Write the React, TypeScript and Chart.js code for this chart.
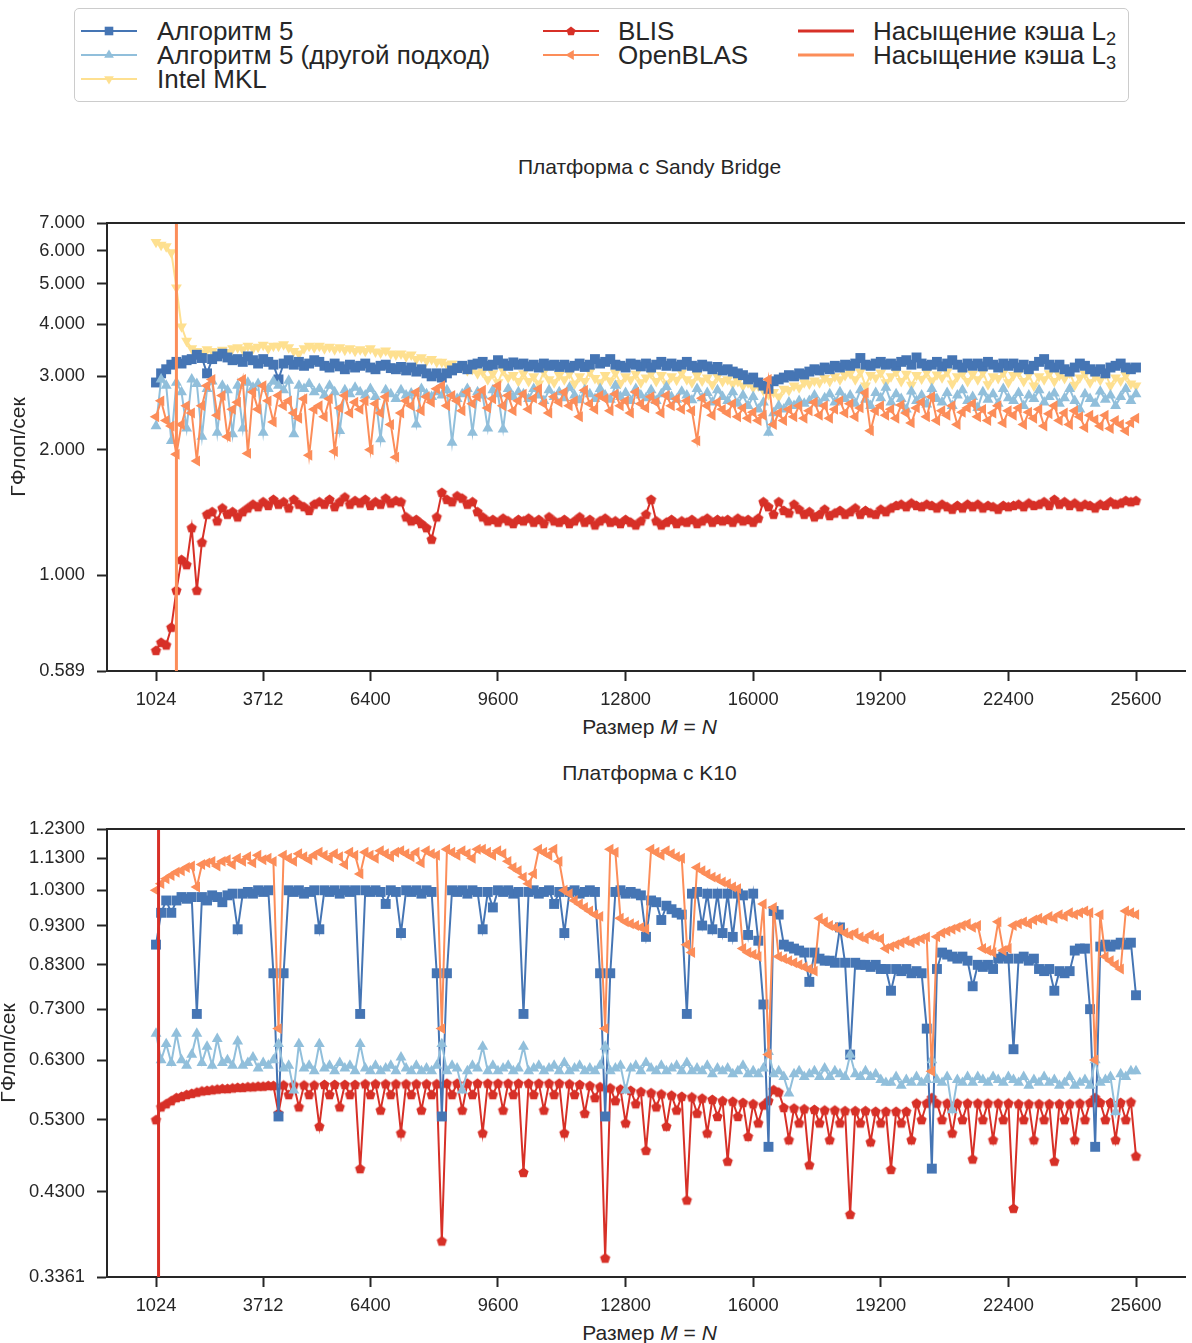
import React, { useEffect, useRef } from "react";
import { Chart, registerables } from "chart.js";

Chart.register(...registerables);

// ---------- data ----------
const SIZES = [
  1024, 1152, 1280, 1408, 1536, 1664, 1792, 1920,
  2048, 2176, 2304, 2432, 2560, 2688, 2816, 2944,
  3072, 3200, 3328, 3456, 3584, 3712, 3840, 3968,
  4096, 4224, 4352, 4480, 4608, 4736, 4864, 4992,
  5120, 5248, 5376, 5504, 5632, 5760, 5888, 6016,
  6144, 6272, 6400, 6528, 6656, 6784, 6912, 7040,
  7168, 7296, 7424, 7552, 7680, 7808, 7936, 8064,
  8192, 8320, 8448, 8576, 8704, 8832, 8960, 9088,
  9216, 9344, 9472, 9600, 9728, 9856, 9984, 10112,
  10240, 10368, 10496, 10624, 10752, 10880, 11008, 11136,
  11264, 11392, 11520, 11648, 11776, 11904, 12032, 12160,
  12288, 12416, 12544, 12672, 12800, 12928, 13056, 13184,
  13312, 13440, 13568, 13696, 13824, 13952, 14080, 14208,
  14336, 14464, 14592, 14720, 14848, 14976, 15104, 15232,
  15360, 15488, 15616, 15744, 15872, 16000, 16128, 16256,
  16384, 16512, 16640, 16768, 16896, 17024, 17152, 17280,
  17408, 17536, 17664, 17792, 17920, 18048, 18176, 18304,
  18432, 18560, 18688, 18816, 18944, 19072, 19200, 19328,
  19456, 19584, 19712, 19840, 19968, 20096, 20224, 20352,
  20480, 20608, 20736, 20864, 20992, 21120, 21248, 21376,
  21504, 21632, 21760, 21888, 22016, 22144, 22272, 22400,
  22528, 22656, 22784, 22912, 23040, 23168, 23296, 23424,
  23552, 23680, 23808, 23936, 24064, 24192, 24320, 24448,
  24576, 24704, 24832, 24960, 25088, 25216, 25344, 25472,
  25600,
];

// Sandy Bridge platform (GFlop/s)
const SB_ALG5 = [
  2.90, 3.05, 3.12, 3.20, 3.25, 3.22, 3.28, 3.30,
  3.38, 3.32, 3.05, 3.30, 3.35, 3.40, 3.33, 3.28,
  3.30, 3.25, 3.35, 3.28, 3.22, 3.30, 3.25, 3.20,
  2.95, 3.22, 3.28, 3.20, 3.25, 3.18, 3.22, 3.28,
  3.25, 3.18, 3.15, 3.22, 3.17, 3.12, 3.20, 3.15,
  3.18, 3.22, 3.15, 3.12, 3.18, 3.20, 3.14, 3.12,
  3.16, 3.10, 3.15, 3.08, 3.12, 3.05, 3.00, 3.05,
  2.98, 3.05, 3.10, 3.14, 3.18, 3.12, 3.20, 3.22,
  3.25, 3.18, 3.20, 3.28, 3.22, 3.18, 3.24, 3.20,
  3.22, 3.17, 3.20, 3.15, 3.22, 3.18, 3.20, 3.16,
  3.20, 3.15, 3.18, 3.22, 3.16, 3.20, 3.30, 3.22,
  3.25, 3.30, 3.20, 3.18, 3.15, 3.22, 3.20, 3.17,
  3.22, 3.15, 3.20, 3.25, 3.18, 3.22, 3.17, 3.20,
  3.25, 3.18, 3.15, 3.20, 3.17, 3.12, 3.16, 3.10,
  3.12, 3.08, 3.05, 3.02, 2.95, 2.98, 2.90, 2.85,
  2.80, 2.92, 2.95, 2.98, 3.02, 3.00, 3.05, 3.03,
  3.08, 3.12, 3.10, 3.15, 3.12, 3.18, 3.15, 3.20,
  3.18, 3.22, 3.32, 3.20, 3.18, 3.22, 3.25, 3.20,
  3.22, 3.18, 3.25, 3.28, 3.20, 3.33, 3.22, 3.18,
  3.20, 3.25, 3.17, 3.22, 3.28, 3.20, 3.15, 3.22,
  3.18, 3.22, 3.17, 3.25, 3.20, 3.15, 3.22, 3.18,
  3.22, 3.15, 3.20, 3.12, 3.18, 3.25, 3.30, 3.20,
  3.15, 3.20, 3.12, 3.08, 3.15, 3.22, 3.18, 3.12,
  3.08, 3.12, 3.05, 3.15, 3.18, 3.22, 3.15, 3.12,
  3.15,
];

const SB_ALG5_ALT = [
  2.28, 2.95, 2.85, 2.10, 2.90, 2.75, 2.25, 2.95,
  2.88, 2.15, 2.80, 2.92, 2.20, 2.85, 2.78, 2.18,
  2.85, 2.25, 2.90, 2.82, 2.88, 2.20, 2.80, 2.92,
  2.85, 2.78, 2.93, 2.18, 2.85, 2.80, 2.88, 2.75,
  2.80, 2.70, 2.85, 2.75, 2.22, 2.78, 2.72, 2.82,
  2.75, 2.70, 2.80, 2.68, 2.12, 2.78, 2.72, 2.65,
  2.78, 2.70, 2.73, 2.30, 2.80, 2.72, 2.68, 2.75,
  2.70, 2.78, 2.08, 2.65, 2.72, 2.80, 2.20, 2.75,
  2.70, 2.25, 2.78, 2.72, 2.24, 2.80, 2.68, 2.75,
  2.72, 2.65, 2.80, 2.70, 2.62, 2.78, 2.68, 2.75,
  2.66, 2.82, 2.70, 2.63, 2.78, 2.72, 2.65, 2.80,
  2.70, 2.64, 2.85, 2.68, 2.74, 2.62, 2.80, 2.70,
  2.66, 2.78, 2.62, 2.72, 2.83, 2.68, 2.64, 2.76,
  2.70, 2.63, 2.80, 2.66, 2.74, 2.60, 2.78, 2.68,
  2.62, 2.75, 2.58, 2.70, 2.55, 2.68, 2.50, 2.60,
  2.20, 2.45, 2.55, 2.50, 2.60, 2.55, 2.62, 2.58,
  2.62, 2.70, 2.58, 2.66, 2.72, 2.60, 2.75, 2.65,
  2.70, 2.58, 2.78, 2.64, 2.55, 2.74, 2.66, 2.82,
  2.60, 2.72, 2.65, 2.50, 2.76, 2.62, 2.70, 2.57,
  2.80, 2.65, 2.60, 2.74, 2.55, 2.70, 2.78, 2.62,
  2.68, 2.52, 2.75, 2.64, 2.72, 2.58, 2.80, 2.66,
  2.62, 2.74, 2.55, 2.70, 2.65, 2.78, 2.60, 2.68,
  2.73, 2.58, 2.66, 2.80, 2.62, 2.50, 2.72, 2.65,
  2.58, 2.76, 2.64, 2.70, 2.55, 2.68, 2.80, 2.62,
  2.72,
];

const SB_MKL = [
  6.30, 6.20, 6.15, 5.95, 4.90, 3.95, 3.65, 3.50,
  3.45, 3.42, 3.48, 3.45, 3.40, 3.47, 3.43, 3.50,
  3.52, 3.48, 3.55, 3.50, 3.53, 3.57, 3.50, 3.55,
  3.55, 3.58, 3.52, 3.45, 3.40, 3.50, 3.55, 3.52,
  3.55, 3.50, 3.53, 3.48, 3.52, 3.47, 3.50, 3.45,
  3.48, 3.45, 3.50, 3.44, 3.42, 3.46, 3.40, 3.38,
  3.40, 3.35, 3.38, 3.30, 3.33, 3.27, 3.30, 3.25,
  3.25, 3.20, 3.22, 3.15, 3.18, 3.10, 3.12, 3.05,
  3.08, 2.95, 3.05, 2.90, 3.10, 2.98, 3.02, 2.92,
  3.05, 2.92, 3.00, 2.88, 3.08, 2.95, 2.90, 3.02,
  2.95, 3.05, 2.88, 3.00, 2.92, 3.08, 2.97, 2.90,
  3.02, 2.93, 3.06, 2.89, 3.00, 2.95, 3.04, 2.90,
  2.98, 3.05, 2.92, 3.02, 2.88, 3.00, 2.94, 3.06,
  2.95, 2.90, 3.02, 2.93, 2.98, 2.87, 3.00, 2.92,
  2.95, 2.88, 2.92, 2.85, 2.90, 2.82, 2.85, 2.78,
  2.72, 2.75, 2.68, 2.80, 2.78, 2.85, 2.82, 2.90,
  2.88, 2.93, 2.90, 2.97, 2.92, 3.00, 2.95, 3.02,
  3.05, 2.95, 3.08, 2.85, 3.02, 2.98, 3.06, 2.90,
  3.00, 3.08, 2.92, 3.04, 2.86, 3.02, 2.96, 3.07,
  2.93, 3.03, 2.98, 3.08, 2.88, 3.00, 3.05, 2.92,
  3.04, 2.95, 3.07, 2.87, 3.00, 2.97, 3.06, 2.90,
  3.02, 3.06, 2.92, 3.03, 2.85, 3.00, 2.95, 3.05,
  2.92, 3.02, 2.97, 3.06, 2.86, 2.98, 3.04, 2.90,
  3.00, 2.94, 3.05, 2.85, 2.98, 2.93, 3.02, 2.88,
  2.85,
];

const SB_BLIS = [
  0.66, 0.69, 0.68, 0.75, 0.92, 1.09, 1.06, 1.30,
  0.92, 1.20, 1.40, 1.42, 1.35, 1.45, 1.40, 1.42,
  1.38, 1.42, 1.45, 1.48, 1.46, 1.50, 1.47, 1.52,
  1.48, 1.50, 1.45, 1.52, 1.48, 1.46, 1.43, 1.48,
  1.50, 1.48, 1.52, 1.46, 1.50, 1.54, 1.48, 1.51,
  1.49, 1.52, 1.47, 1.50, 1.48, 1.53, 1.49, 1.51,
  1.50, 1.38, 1.35, 1.36, 1.33, 1.30, 1.22, 1.38,
  1.58, 1.52, 1.50, 1.55, 1.53, 1.48, 1.50, 1.42,
  1.38, 1.35, 1.36, 1.34, 1.37, 1.35, 1.33, 1.36,
  1.35, 1.37, 1.34, 1.36, 1.33, 1.38, 1.35, 1.34,
  1.36, 1.33, 1.35, 1.38, 1.34, 1.36, 1.32, 1.35,
  1.37, 1.34, 1.35, 1.33, 1.36, 1.34, 1.32, 1.35,
  1.40, 1.52, 1.35, 1.32, 1.34, 1.36, 1.33, 1.35,
  1.34, 1.36, 1.33, 1.35, 1.37, 1.34, 1.36, 1.35,
  1.36, 1.34, 1.37, 1.35, 1.36, 1.34, 1.37, 1.50,
  1.46, 1.40, 1.50, 1.43, 1.41, 1.48, 1.44, 1.40,
  1.42, 1.38, 1.40, 1.44, 1.39, 1.41, 1.43, 1.40,
  1.42, 1.45, 1.40, 1.43, 1.41, 1.40, 1.44, 1.42,
  1.45, 1.47, 1.48, 1.46, 1.49, 1.47, 1.46, 1.48,
  1.47, 1.45, 1.48, 1.46, 1.44, 1.47, 1.45, 1.48,
  1.46, 1.48, 1.45, 1.47, 1.46, 1.44, 1.47, 1.46,
  1.47, 1.48, 1.46, 1.49, 1.47, 1.48, 1.50, 1.47,
  1.52, 1.48, 1.50, 1.47, 1.49, 1.46, 1.48, 1.47,
  1.45, 1.48, 1.47, 1.50, 1.48, 1.49, 1.51, 1.50,
  1.51,
];

const SB_OPENBLAS = [
  2.40, 2.62, 2.35, 2.28, 1.95, 2.30, 2.55, 2.45,
  1.88, 2.55, 2.85, 2.95, 2.42, 2.70, 2.15, 2.50,
  2.60, 2.95, 1.96, 2.75, 2.50, 2.85, 2.62, 2.33,
  2.70, 2.55, 2.62, 2.45, 2.38, 2.65, 1.94, 2.50,
  2.55, 2.40, 2.65, 1.98, 2.52, 2.70, 2.45, 2.60,
  2.50, 2.62, 2.00, 2.58, 2.45, 2.68, 2.30, 1.92,
  2.45, 2.62, 2.55, 2.75, 2.48, 2.68, 2.60, 2.80,
  2.85, 2.55, 2.70, 2.62, 2.48, 2.75, 2.58, 2.68,
  2.78, 2.52, 2.65, 2.85, 2.55, 2.70, 2.48, 2.62,
  2.72, 2.50, 2.66, 2.80, 2.58, 2.45, 2.68, 2.60,
  2.75, 2.55, 2.62, 2.40, 2.78, 2.58, 2.50, 2.70,
  2.65, 2.48, 2.72, 2.55, 2.62, 2.45, 2.75, 2.58,
  2.52, 2.68, 2.60, 2.45, 2.70, 2.55, 2.65, 2.50,
  2.62, 2.48, 2.10, 2.66, 2.55, 2.42, 2.60, 2.50,
  2.45, 2.58, 2.40, 2.52, 2.38, 2.46, 2.35, 2.42,
  2.95, 2.30, 2.45, 2.35, 2.50, 2.40, 2.55, 2.38,
  2.48, 2.60, 2.42, 2.55, 2.38, 2.50, 2.62, 2.45,
  2.58, 2.40, 2.52, 2.74, 2.22, 2.48, 2.55, 2.42,
  2.50, 2.38, 2.56, 2.45, 2.32, 2.52, 2.60, 2.40,
  2.68, 2.35, 2.48, 2.42, 2.55, 2.30, 2.46, 2.52,
  2.58, 2.40, 2.50, 2.35, 2.45, 2.55, 2.32, 2.48,
  2.42, 2.52, 2.30, 2.46, 2.38, 2.50, 2.28, 2.44,
  2.55, 2.35, 2.45, 2.30, 2.48, 2.40, 2.26, 2.42,
  2.36, 2.28, 2.42, 2.25, 2.35, 2.30, 2.22, 2.32,
  2.38,
];

// K10 platform (GFlop/s)
const K10_ALG5 = [
  0.88, 0.965, 1.00, 0.965, 1.00, 1.01, 1.005, 1.01,
  0.72, 1.01, 1.00, 1.015, 1.01, 0.995, 1.015, 1.02,
  0.92, 1.02, 1.025, 1.02, 1.03, 1.025, 1.03, 0.81,
  0.535, 0.81, 1.03, 1.025, 1.03, 1.02, 1.025, 1.03,
  0.92, 1.03, 1.025, 1.03, 1.02, 1.03, 1.025, 1.03,
  0.72, 1.03, 1.025, 1.03, 1.025, 0.99, 1.03, 1.025,
  0.91, 1.03, 1.025, 1.03, 1.02, 1.03, 1.025, 0.81,
  0.535, 0.81, 1.03, 1.025, 1.03, 1.02, 1.03, 1.025,
  0.92, 1.025, 0.98, 1.03, 1.025, 1.03, 1.02, 1.025,
  0.72, 1.025, 1.03, 1.02, 1.025, 1.03, 0.99, 1.025,
  0.91, 1.025, 1.03, 1.02, 1.025, 1.03, 1.025, 0.81,
  0.535, 0.81, 1.025, 1.03, 1.02, 1.025, 1.02, 1.015,
  0.90, 1.00, 0.995, 0.945, 0.985, 0.975, 0.965, 0.96,
  0.72, 1.02, 1.025, 0.93, 1.02, 0.92, 1.02, 0.91,
  1.02, 0.90, 1.02, 1.015, 0.905, 1.02, 0.89, 0.74,
  0.49, 0.97, 0.96, 0.88, 0.875, 0.87, 0.865, 0.86,
  0.79, 0.86, 0.845, 0.84, 0.84, 0.835, 0.925, 0.835,
  0.64, 0.835, 0.83, 0.83, 0.825, 0.83, 0.82, 0.82,
  0.77, 0.82, 0.815, 0.82, 0.81, 0.815, 0.81, 0.69,
  0.46, 0.82, 0.86, 0.855, 0.85, 0.845, 0.85, 0.84,
  0.78, 0.83, 0.825, 0.83, 0.82, 0.845, 0.85, 0.845,
  0.65, 0.845, 0.85, 0.84, 0.845, 0.82, 0.815, 0.82,
  0.77, 0.815, 0.81, 0.815, 0.865, 0.87, 0.87, 0.73,
  0.49, 0.875, 0.88, 0.875, 0.88, 0.885, 0.88, 0.885,
  0.76,
];

const K10_ALG5_ALT = [
  0.68, 0.63, 0.66, 0.625, 0.68, 0.63, 0.62, 0.64,
  0.68, 0.625, 0.655, 0.62, 0.67, 0.625, 0.63, 0.62,
  0.665, 0.62, 0.625, 0.635, 0.615, 0.625, 0.62, 0.63,
  0.66, 0.615, 0.62, 0.577, 0.66, 0.615, 0.62, 0.61,
  0.66, 0.615, 0.62, 0.61, 0.625, 0.615, 0.62, 0.61,
  0.66, 0.615, 0.61, 0.62, 0.61, 0.615, 0.62, 0.61,
  0.635, 0.615, 0.61, 0.62, 0.61, 0.615, 0.61, 0.62,
  0.66, 0.61, 0.62, 0.615, 0.577, 0.61, 0.62, 0.615,
  0.655, 0.61, 0.62, 0.61, 0.615, 0.62, 0.61, 0.615,
  0.655, 0.61, 0.615, 0.62, 0.61, 0.615, 0.62, 0.61,
  0.625, 0.61, 0.615, 0.62, 0.61, 0.615, 0.61, 0.62,
  0.655, 0.61, 0.615, 0.62, 0.577, 0.615, 0.62, 0.61,
  0.625, 0.615, 0.61, 0.62, 0.61, 0.615, 0.62, 0.61,
  0.625, 0.61, 0.615, 0.61, 0.62, 0.605, 0.615, 0.61,
  0.615, 0.605, 0.61, 0.62, 0.605, 0.61, 0.605, 0.615,
  0.645, 0.605, 0.61, 0.60, 0.572, 0.605, 0.61, 0.60,
  0.605, 0.61, 0.60, 0.615, 0.60, 0.61, 0.605, 0.60,
  0.64, 0.605, 0.60, 0.61, 0.60, 0.605, 0.595, 0.59,
  0.59, 0.60, 0.585, 0.595, 0.59, 0.60, 0.59, 0.595,
  0.63, 0.595, 0.59, 0.60, 0.545, 0.595, 0.59, 0.60,
  0.59, 0.60, 0.595, 0.59, 0.60, 0.595, 0.59, 0.60,
  0.595, 0.59, 0.60, 0.585, 0.595, 0.59, 0.60, 0.59,
  0.595, 0.585, 0.59, 0.60, 0.585, 0.59, 0.595, 0.585,
  0.63, 0.59, 0.595, 0.60, 0.542, 0.605, 0.60, 0.61,
  0.61,
];

const K10_BLIS = [
  0.53, 0.55, 0.555, 0.56, 0.565, 0.567, 0.57, 0.572,
  0.574, 0.576, 0.577, 0.578, 0.579, 0.58, 0.58, 0.581,
  0.582, 0.582, 0.583, 0.583, 0.584, 0.584, 0.585, 0.585,
  0.54, 0.586, 0.57, 0.586, 0.55, 0.586, 0.57, 0.586,
  0.52, 0.587, 0.57, 0.587, 0.55, 0.587, 0.57, 0.587,
  0.46, 0.588, 0.57, 0.588, 0.545, 0.588, 0.57, 0.588,
  0.51, 0.588, 0.57, 0.588, 0.545, 0.588, 0.57, 0.588,
  0.373, 0.589, 0.57, 0.589, 0.545, 0.589, 0.57, 0.589,
  0.51, 0.589, 0.57, 0.589, 0.545, 0.589, 0.57, 0.589,
  0.455, 0.589, 0.57, 0.589, 0.545, 0.589, 0.57, 0.589,
  0.51, 0.588, 0.57, 0.587, 0.54, 0.585, 0.565, 0.583,
  0.355, 0.581, 0.56, 0.579, 0.525, 0.577, 0.555, 0.575,
  0.485, 0.573, 0.55, 0.571, 0.52, 0.569, 0.545, 0.567,
  0.42, 0.566, 0.54, 0.564, 0.51, 0.562, 0.535, 0.56,
  0.47, 0.559, 0.535, 0.557, 0.505, 0.555, 0.525, 0.553,
  0.56, 0.578, 0.574, 0.549, 0.50, 0.548, 0.525, 0.547,
  0.465, 0.546, 0.525, 0.545, 0.50, 0.545, 0.525, 0.544,
  0.403, 0.544, 0.525, 0.544, 0.497, 0.543, 0.525, 0.543,
  0.459, 0.543, 0.525, 0.543, 0.50, 0.556, 0.53, 0.556,
  0.565, 0.556, 0.53, 0.556, 0.51, 0.556, 0.53, 0.556,
  0.473, 0.556, 0.53, 0.556, 0.50, 0.556, 0.53, 0.556,
  0.41, 0.555, 0.53, 0.555, 0.50, 0.555, 0.53, 0.555,
  0.47, 0.555, 0.53, 0.555, 0.50, 0.556, 0.53, 0.557,
  0.565, 0.557, 0.53, 0.557, 0.50, 0.557, 0.53, 0.558,
  0.477,
];

const K10_OPENBLAS = [
  1.03, 1.05, 1.065, 1.075, 1.085, 1.09, 1.10, 1.105,
  1.04, 1.11, 1.115, 1.12, 1.105, 1.12, 1.125, 1.11,
  1.13, 1.12, 1.135, 1.115, 1.14, 1.125, 1.13, 1.12,
  0.69, 1.14, 1.13, 1.12, 1.145, 1.135, 1.125, 1.14,
  1.15, 1.14, 1.13, 1.145, 1.135, 1.11, 1.15, 1.14,
  1.08, 1.15, 1.14, 1.13, 1.155, 1.145, 1.135, 1.15,
  1.155, 1.145, 1.135, 1.15, 1.115, 1.155, 1.145, 1.14,
  0.69, 1.16, 1.15, 1.14, 1.155, 1.145, 1.13, 1.16,
  1.16, 1.15, 1.14, 1.155, 1.145, 1.12, 1.10, 1.09,
  1.07, 1.05, 1.08, 1.16, 1.15, 1.14, 1.16, 1.12,
  1.03, 1.02, 1.00, 0.99, 0.98, 0.97, 0.96, 0.955,
  0.69, 1.16, 1.15, 0.95, 0.94, 0.935, 0.93, 0.925,
  0.92, 1.16, 1.15, 1.14, 1.155, 1.145, 1.135, 1.13,
  0.88, 0.86, 1.10, 1.09, 1.08, 1.07, 1.065, 1.055,
  1.05, 1.04, 1.035, 0.87, 0.86, 0.855, 0.85, 0.99,
  0.64, 0.98, 0.85, 0.845, 0.84, 0.835, 0.83, 0.825,
  0.82, 0.815, 0.95, 0.94, 0.93, 0.925, 0.92, 0.91,
  0.905, 0.91, 0.90, 0.895, 0.905, 0.90, 0.895, 0.87,
  0.875, 0.88, 0.885, 0.89, 0.885, 0.89, 0.895, 0.90,
  0.61, 0.90, 0.91, 0.915, 0.92, 0.925, 0.93, 0.935,
  0.925, 0.93, 0.87, 0.865, 0.86, 0.94, 0.865, 0.87,
  0.93, 0.935, 0.94, 0.935, 0.945, 0.95, 0.945, 0.955,
  0.95, 0.96, 0.955, 0.965, 0.96, 0.965, 0.97, 0.965,
  0.63, 0.96, 0.85, 0.84, 0.83, 0.82, 0.97, 0.965,
  0.96,
];

const X_TICKS = [1024, 3712, 6400, 9600, 12800, 16000, 19200, 22400, 25600];
const SB_Y_TICKS = [0.589, 1, 2, 3, 4, 5, 6, 7];
const K10_Y_TICKS = [0.3361, 0.43, 0.53, 0.63, 0.73, 0.83, 0.93, 1.03, 1.13, 1.23];
const L3_SANDY = 1536; // L3 cache saturation, Sandy Bridge
const L2_K10 = 1088; // L2 cache saturation, K10

// ---------- style ----------
const X_MIN = -204.8;
const X_MAX = 26828.8;
const C_ALG5 = "#4575b4";
const C_ALT = "#91bfdb";
const C_MKL = "#fee090";
const C_BLIS = "#d73027";
const C_OPEN = "#fc8d59";
const INK = "#262626";
const FONT = '"Liberation Sans", Arial, Helvetica, sans-serif';
const TICK_FS = 18.3;
const LABEL_FS = 21;
const LEGEND_FS = 26;
const R_RECT = 7;
const R_TRI = 6.3;
const R_PENT = 5.4;

function pentagonImage(color: string, r: number) {
  const size = Math.ceil(r * 2 + 2);
  const c = document.createElement("canvas");
  c.width = size;
  c.height = size;
  const g = c.getContext("2d")!;
  g.fillStyle = color;
  g.beginPath();
  for (let k = 0; k < 5; k++) {
    const a = -Math.PI / 2 + (k * 2 * Math.PI) / 5;
    const px = size / 2 + r * Math.cos(a);
    const py = size / 2 + r * Math.sin(a) + 0.4;
    if (k === 0) g.moveTo(px, py);
    else g.lineTo(px, py);
  }
  g.closePath();
  g.fill();
  return c;
}

function series(label: string, values: number[], color: string, style: any, radius: number, rotation: number, order: number) {
  return {
    label,
    data: SIZES.map((x, i) => ({ x, y: values[i] })),
    borderColor: color,
    backgroundColor: color,
    borderWidth: 2,
    pointStyle: style,
    pointRotation: rotation,
    pointRadius: radius,
    pointBorderWidth: 0,
    pointBackgroundColor: color,
    pointBorderColor: color,
    pointHoverRadius: radius,
    tension: 0,
    order,
  };
}

function vline(label: string, x: number, lo: number, hi: number, color: string) {
  return {
    label,
    data: [
      { x, y: lo },
      { x, y: hi },
    ],
    borderColor: color,
    backgroundColor: color,
    borderWidth: 3,
    pointRadius: 0,
    order: 0,
  };
}

const topSpine = {
  id: "topSpine",
  afterDraw(chart: any) {
    const { ctx, chartArea } = chart;
    ctx.save();
    ctx.strokeStyle = INK;
    ctx.lineWidth = 2;
    ctx.beginPath();
    ctx.moveTo(chartArea.left - 1, Math.round(chartArea.top));
    ctx.lineTo(chartArea.right, Math.round(chartArea.top));
    ctx.stroke();
    ctx.restore();
  },
};

function makeOptions(yMin: number, yMax: number, yTicks: number[], digits: number) {
  const grid = {
    drawOnChartArea: false,
    drawTicks: true,
    tickLength: 10,
    tickWidth: 2,
    tickColor: INK,
    color: INK,
  };
  const border = { display: true, color: INK, width: 2 };
  return {
    animation: false,
    responsive: false,
    devicePixelRatio: 1,
    events: [],
    layout: { padding: { left: 0, right: 0, top: 12, bottom: 0 } },
    plugins: { legend: { display: false }, tooltip: { enabled: false }, title: { display: false } },
    scales: {
      x: {
        type: "linear",
        bounds: "data",
        min: X_MIN,
        max: X_MAX,
        afterBuildTicks: (s: any) => {
          s.ticks = X_TICKS.map((v) => ({ value: v }));
        },
        afterFit: (s: any) => {
          s.height = 42;
          s.paddingLeft = 0;
          s.paddingRight = 0;
        },
        ticks: {
          autoSkip: false,
          maxRotation: 0,
          minRotation: 0,
          padding: 8,
          color: INK,
          font: { family: FONT, size: TICK_FS },
          callback: (v: any) => String(v),
        },
        grid,
        border,
      },
      y: {
        type: "logarithmic",
        bounds: "data",
        min: yMin,
        max: yMax,
        afterBuildTicks: (s: any) => {
          s.ticks = yTicks.map((v) => ({ value: v }));
        },
        afterFit: (s: any) => {
          s.width = 107;
          s.paddingTop = 0;
          s.paddingBottom = 0;
        },
        ticks: {
          autoSkip: false,
          padding: 12,
          color: INK,
          font: { family: FONT, size: TICK_FS },
          callback: (v: any) => Number(v).toFixed(digits),
        },
        grid,
        border,
      },
    },
  };
}

// ---------- legend ----------
function MarkerShape({ kind, color }: { kind: string; color: string }) {
  if (kind === "square") return <rect x={-4.3} y={-4.3} width={8.6} height={8.6} fill={color} />;
  if (kind === "up") return <polygon points="0,-5.6 4.9,2.8 -4.9,2.8" fill={color} />;
  if (kind === "down") return <polygon points="0,5.6 4.9,-2.8 -4.9,-2.8" fill={color} />;
  if (kind === "left") return <polygon points="-5.6,0 2.8,-4.9 2.8,4.9" fill={color} />;
  if (kind === "pent") {
    const pts: string[] = [];
    for (let k = 0; k < 5; k++) {
      const a = -Math.PI / 2 + (k * 2 * Math.PI) / 5;
      pts.push(`${(4.8 * Math.cos(a)).toFixed(2)},${(4.8 * Math.sin(a) + 0.4).toFixed(2)}`);
    }
    return <polygon points={pts.join(" ")} fill={color} />;
  }
  return null;
}

function LegendItem(props: { x: number; tx: number; y: number; color: string; kind: string; lw: number; children: any }) {
  const { x, tx, y, color, kind, lw, children } = props;
  return (
    <>
      <svg
        width={56}
        height={16}
        style={{ position: "absolute", left: x, top: y - 8 }}
        viewBox="0 0 56 16"
      >
        <line x1={0} y1={8} x2={56} y2={8} stroke={color} strokeWidth={lw} />
        <g transform="translate(28,8)">
          <MarkerShape kind={kind} color={color} />
        </g>
      </svg>
      <div
        style={{
          position: "absolute",
          left: tx,
          top: y - 15,
          fontSize: LEGEND_FS,
          lineHeight: "30px",
          whiteSpace: "nowrap",
          color: INK,
        }}
      >
        {children}
      </div>
    </>
  );
}

const subStyle: any = { fontSize: "70%", lineHeight: 0, verticalAlign: "-0.3em" };

export default function App() {
  const topRef = useRef<HTMLCanvasElement>(null);
  const botRef = useRef<HTMLCanvasElement>(null);

  useEffect(() => {
    const pent = pentagonImage(C_BLIS, R_PENT);
    const topChart = new Chart(topRef.current as HTMLCanvasElement, {
      type: "line",
      data: {
        datasets: [
          series("Алгоритм 5", SB_ALG5, C_ALG5, "rect", R_RECT, 0, 3),
          series("Алгоритм 5 (другой подход)", SB_ALG5_ALT, C_ALT, "triangle", R_TRI, 0, 2),
          series("Intel MKL", SB_MKL, C_MKL, "triangle", R_TRI, 180, 4),
          series("BLIS", SB_BLIS, C_BLIS, pent, R_PENT, 0, 5),
          series("OpenBLAS", SB_OPENBLAS, C_OPEN, "triangle", R_TRI, 270, 1),
          vline("Насыщение кэша L3", L3_SANDY, 0.5, 8, C_OPEN),
        ] as any,
      },
      options: makeOptions(0.589, 7, SB_Y_TICKS, 3) as any,
      plugins: [topSpine],
    });
    const botChart = new Chart(botRef.current as HTMLCanvasElement, {
      type: "line",
      data: {
        datasets: [
          series("Алгоритм 5", K10_ALG5, C_ALG5, "rect", R_RECT, 0, 3),
          series("Алгоритм 5 (другой подход)", K10_ALG5_ALT, C_ALT, "triangle", R_TRI, 0, 2),
          series("BLIS", K10_BLIS, C_BLIS, pent, R_PENT, 0, 5),
          series("OpenBLAS", K10_OPENBLAS, C_OPEN, "triangle", R_TRI, 270, 1),
          vline("Насыщение кэша L2", L2_K10, 0.3, 1.3, C_BLIS),
        ] as any,
      },
      options: makeOptions(0.3361, 1.23, K10_Y_TICKS, 4) as any,
      plugins: [topSpine],
    });
    return () => {
      topChart.destroy();
      botChart.destroy();
    };
  }, []);

  const textBase: any = {
    position: "absolute",
    whiteSpace: "nowrap",
    color: INK,
    fontSize: LABEL_FS,
    lineHeight: "24px",
  };

  return (
    <div
      style={{
        position: "absolute",
        left: 0,
        top: 0,
        width: 1192,
        height: 1343,
        overflow: "hidden",
        background: "#ffffff",
        fontFamily: FONT,
      }}
    >
      {/* legend */}
      <div
        style={{
          position: "absolute",
          left: 74,
          top: 8,
          width: 1053,
          height: 92,
          border: "1.5px solid #cccccc",
          borderRadius: 5,
          background: "#fff",
        }}
      />
      <LegendItem x={81} tx={157} y={31} color={C_ALG5} kind="square" lw={2}>
        Алгоритм 5
      </LegendItem>
      <LegendItem x={81} tx={157} y={55} color={C_ALT} kind="up" lw={2}>
        Алгоритм 5 (другой подход)
      </LegendItem>
      <LegendItem x={81} tx={157} y={79} color={C_MKL} kind="down" lw={2}>
        Intel MKL
      </LegendItem>
      <LegendItem x={543} tx={618} y={31} color={C_BLIS} kind="pent" lw={2}>
        BLIS
      </LegendItem>
      <LegendItem x={543} tx={618} y={55} color={C_OPEN} kind="left" lw={2}>
        OpenBLAS
      </LegendItem>
      <LegendItem x={798} tx={873} y={31} color={C_BLIS} kind="none" lw={3}>
        Насыщение кэша L<sub style={subStyle}>2</sub>
      </LegendItem>
      <LegendItem x={798} tx={873} y={55} color={C_OPEN} kind="none" lw={3}>
        Насыщение кэша L<sub style={subStyle}>3</sub>
      </LegendItem>

      {/* top chart */}
      <div style={{ ...textBase, left: 107, width: 1085, top: 155, textAlign: "center" }}>
        Платформа с Sandy Bridge
      </div>
      <canvas
        ref={topRef}
        width={1192}
        height={502}
        style={{ position: "absolute", left: 0, top: 211, width: 1192, height: 502 }}
      />
      <div style={{ ...textBase, left: 107, width: 1085, top: 715, textAlign: "center" }}>
        Размер <i>M</i> = <i>N</i>
      </div>
      <div
        style={{
          ...textBase,
          left: 18 - 60,
          top: 447 - 12,
          width: 120,
          textAlign: "center",
          transform: "rotate(-90deg)",
        }}
      >
        ГФлоп/сек
      </div>

      {/* bottom chart */}
      <div style={{ ...textBase, left: 107, width: 1085, top: 761, textAlign: "center" }}>
        Платформа с K10
      </div>
      <canvas
        ref={botRef}
        width={1192}
        height={502}
        style={{ position: "absolute", left: 0, top: 817, width: 1192, height: 502 }}
      />
      <div style={{ ...textBase, left: 107, width: 1085, top: 1321, textAlign: "center" }}>
        Размер <i>M</i> = <i>N</i>
      </div>
      <div
        style={{
          ...textBase,
          left: 8 - 60,
          top: 1053 - 12,
          width: 120,
          textAlign: "center",
          transform: "rotate(-90deg)",
        }}
      >
        ГФлоп/сек
      </div>
    </div>
  );
}
